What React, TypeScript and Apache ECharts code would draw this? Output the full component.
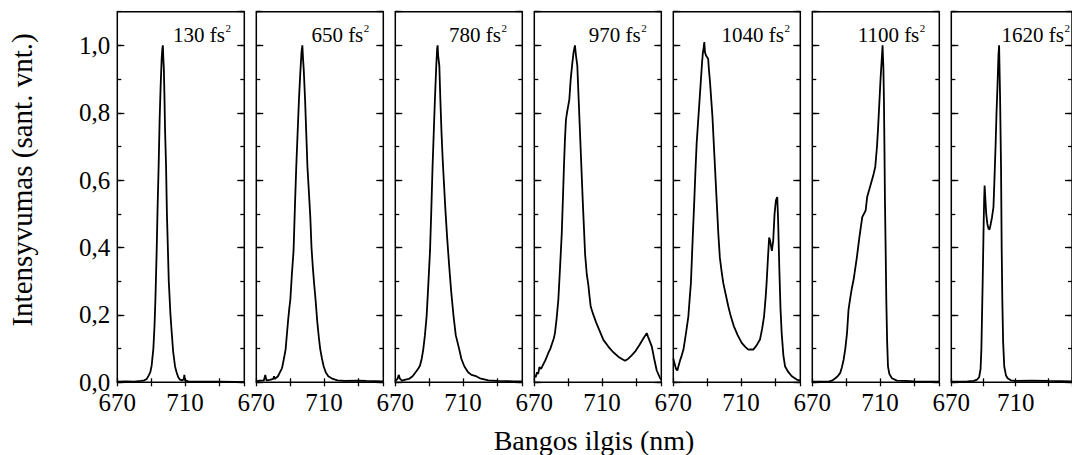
import React, { useEffect, useRef } from "react";
import * as echarts from "echarts";

// ---- data ----
const dispersionLabels = ["130", "650", "780", "970", "1040", "1100", "1620"];
const xTickLabels = [670, 710];
const yTickValues = [0, 0.2, 0.4, 0.6, 0.8, 1.0];

const spectrum130: number[][] = [
  [670, 0.002], [675, 0.003], [680, 0.002], [684, 0.004], [686, 0.006], [687.4, 0.01], [688.5, 0.02],
  [689.5, 0.03], [690.3, 0.05], [691.3, 0.1], [692, 0.17], [692.5, 0.245], [693.2, 0.38], [693.8, 0.52],
  [694.4, 0.64], [695, 0.78], [695.6, 0.88], [696.2, 0.96], [696.6, 0.99], [696.9, 1.0], [697.2, 0.96],
  [697.5, 0.93], [697.8, 0.86], [698.2, 0.75], [698.8, 0.64], [699.3, 0.5], [699.8, 0.41], [700.4, 0.3],
  [701.1, 0.23], [701.4, 0.2], [702.1, 0.15], [703, 0.09], [704.1, 0.047], [705, 0.03], [706, 0.015],
  [707, 0.008], [708.5, 0.006], [709.3, 0.01], [709.6, 0.022], [710, 0.006], [712, 0.003], [720, 0.002],
  [730, 0.002], [740, 0.001], [745, 0.001],
];
const spectrum650: number[][] = [
  [670, 0.003], [672, 0.005], [674.5, 0.006], [675.3, 0.022], [676, 0.006], [678, 0.007], [680, 0.01],
  [680.5, 0.018], [681, 0.01], [682.8, 0.018], [684, 0.03], [685, 0.04], [685.4, 0.047], [686.3, 0.07],
  [687.3, 0.097], [688.2, 0.15], [688.9, 0.19], [689.5, 0.22], [690.1, 0.245], [691, 0.32], [692, 0.39],
  [692.8, 0.52], [693.6, 0.64], [694.4, 0.74], [695.2, 0.84], [696, 0.92], [696.7, 0.98], [697.2, 1.0],
  [697.6, 0.96], [698, 0.93], [698.8, 0.84], [699.5, 0.74], [700.2, 0.64], [701, 0.57], [701.9, 0.49],
  [702.6, 0.4], [703.4, 0.34], [704.2, 0.29], [705, 0.245], [706, 0.18], [707, 0.13], [707.8, 0.097],
  [708.8, 0.07], [709.8, 0.047], [711, 0.03], [712.5, 0.018], [715.2, 0.01], [718, 0.006], [722, 0.004],
  [730, 0.005], [735, 0.004], [745, 0.003],
];
const spectrum780: number[][] = [
  [670, 0.004], [671.3, 0.01], [672, 0.022], [672.8, 0.01], [674, 0.005], [676, 0.008], [678, 0.01],
  [680.2, 0.018], [682, 0.03], [683.5, 0.04], [684.6, 0.05], [685.6, 0.07], [686.5, 0.097], [687.5, 0.14],
  [688.5, 0.196], [689.5, 0.29], [690.5, 0.39], [691.2, 0.5], [692, 0.64], [692.7, 0.74], [693.4, 0.84],
  [694.2, 0.94], [694.7, 0.99], [695, 1.0], [695.3, 0.97], [696, 0.94], [696.6, 0.84], [697.3, 0.74],
  [698, 0.66], [699.5, 0.52], [700.6, 0.43], [701.9, 0.34], [703, 0.27], [704.4, 0.196], [705.7, 0.14],
  [707.8, 0.097], [709, 0.07], [710.8, 0.047], [713, 0.03], [715, 0.022], [717.7, 0.018], [720, 0.012],
  [725, 0.006], [730, 0.004], [740, 0.003], [745, 0.003],
];
const spectrum970: number[][] = [
  [670, 0.02], [670.8, 0.015], [671.6, 0.03], [672.3, 0.025], [673, 0.045], [674, 0.04], [675, 0.05],
  [676.5, 0.065], [678.3, 0.087], [679.5, 0.1], [680.5, 0.115], [681.5, 0.13], [682.2, 0.146], [683.2, 0.19],
  [684.2, 0.245], [685.2, 0.34], [686.2, 0.44], [687, 0.56], [687.5, 0.64], [688.1, 0.72], [688.7, 0.78],
  [689.3, 0.8], [690, 0.82], [690.7, 0.84], [691.5, 0.9], [692.3, 0.94], [693.2, 0.98], [694, 1.0],
  [694.6, 0.97], [695.4, 0.94], [696.2, 0.84], [697, 0.74], [697.8, 0.64], [698.6, 0.54], [699.3, 0.46],
  [700, 0.38], [701, 0.32], [701.9, 0.29], [702.5, 0.26], [703.3, 0.225], [704.9, 0.2], [706.5, 0.178],
  [708.4, 0.155], [710.8, 0.126], [713.7, 0.106], [716.5, 0.09], [719.6, 0.076], [721.5, 0.07], [723.6, 0.064],
  [725.5, 0.07], [727.5, 0.08], [729.5, 0.091], [732, 0.11], [734.4, 0.13], [736.4, 0.146], [737.2, 0.135],
  [739.4, 0.106], [740.8, 0.07], [742.3, 0.035], [744.3, 0.012], [745, 0.008],
];
const spectrum1040: number[][] = [
  [670, 0.07], [670.8, 0.055], [671.6, 0.04], [672.4, 0.035], [673, 0.047], [674, 0.065], [675, 0.08],
  [676, 0.097], [677.5, 0.146], [678.9, 0.196], [679.7, 0.25], [680.4, 0.295], [681.4, 0.42], [682.4, 0.54],
  [683.1, 0.63], [683.8, 0.71], [685, 0.8], [686.2, 0.89], [687, 0.95], [687.5, 0.98], [688, 0.995],
  [688.3, 1.01], [688.7, 0.98], [689.3, 0.97], [690, 0.965], [690.6, 0.96], [691, 0.93], [691.7, 0.89],
  [693.1, 0.79], [694.6, 0.64], [695.6, 0.54], [696.6, 0.44], [697.5, 0.37], [698.5, 0.33], [699.5, 0.295],
  [701, 0.26], [702.5, 0.225], [704, 0.195], [705.8, 0.166], [708, 0.14], [710.4, 0.117], [712.5, 0.105],
  [714.3, 0.097], [716, 0.098], [717.2, 0.097], [719, 0.108], [721.2, 0.127], [722.5, 0.16], [723.6, 0.196],
  [724.5, 0.25], [725.1, 0.295], [725.8, 0.36], [726.6, 0.43], [727.2, 0.42], [728.2, 0.39], [729, 0.42],
  [729.8, 0.5], [730.6, 0.54], [731.4, 0.55], [731.9, 0.48], [732.6, 0.34], [733.3, 0.22], [734, 0.146],
  [735, 0.08], [736, 0.047], [738, 0.03], [740, 0.018], [742.9, 0.008], [745, 0.005],
];
const spectrum1100: number[][] = [
  [670, 0.002], [675, 0.002], [680, 0.003], [682, 0.006], [683.6, 0.012], [685, 0.018], [686.5, 0.028],
  [687.5, 0.045], [688.5, 0.067], [689.5, 0.1], [690.5, 0.146], [691.4, 0.216], [692.4, 0.25], [693.4, 0.28],
  [694.4, 0.305], [696.3, 0.37], [697.8, 0.43], [699.5, 0.49], [701.5, 0.51], [702.4, 0.55], [705.2, 0.6],
  [706.3, 0.62], [707.2, 0.64], [708.2, 0.7], [708.8, 0.75], [709.7, 0.84], [710.3, 0.9], [710.9, 0.95],
  [711.5, 1.0], [712, 0.93], [712.3, 0.84], [712.6, 0.7], [712.9, 0.54], [713.3, 0.4], [713.7, 0.245],
  [714.2, 0.12], [714.7, 0.047], [715.5, 0.025], [717, 0.012], [720, 0.005], [725, 0.004], [730, 0.003],
  [740, 0.002], [745, 0.002],
];
const spectrum1620: number[][] = [
  [670, 0.002], [675, 0.002], [680, 0.003], [684, 0.004], [686, 0.008], [687.3, 0.015], [688.2, 0.04],
  [688.7, 0.1], [689.1, 0.2], [689.5, 0.3], [690, 0.44], [690.4, 0.54], [690.7, 0.584], [691.1, 0.55],
  [691.7, 0.5], [692.4, 0.47], [693.2, 0.455], [693.8, 0.454], [694.5, 0.47], [695.3, 0.49], [696.2, 0.52],
  [696.8, 0.6], [697.5, 0.7], [698.1, 0.8], [698.7, 0.88], [699.3, 0.97], [699.7, 1.0], [700.3, 0.85],
  [700.9, 0.64], [701.3, 0.4], [701.7, 0.245], [702.2, 0.12], [702.9, 0.047], [704, 0.02], [705, 0.012],
  [707, 0.006], [710, 0.004], [720, 0.005], [730, 0.004], [745, 0.003],
];
const spectra = [spectrum130, spectrum650, spectrum780, spectrum970, spectrum1040, spectrum1100, spectrum1620];

// ---- layout ----
const X_MIN = 670;
const X_MAX = 745;
const Y_MAX = 1.1;
const PANEL_LEFT0 = 117.3;
const PANEL_PITCH = 139;
const PANEL_W = 127;
const PANEL_TOP = 11.7;
const PANEL_H = 370.6;
const labelRightInset = [19.3, 20, 21.3, 20.6, 16.3, 20, 14.3];
const FONT = "'Liberation Serif', 'Times New Roman', serif";

export default function App() {
  const ref = useRef<HTMLDivElement>(null);
  useEffect(() => {
    if (!ref.current) return;
    const chart = echarts.init(ref.current, undefined, { renderer: "svg" });
    const n = spectra.length;
    const grid: any[] = [];
    const xAxis: any[] = [];
    const yAxis: any[] = [];
    const series: any[] = [];
    const graphic: any[] = [];
    const tickLine = { color: "#000", width: 1.3 };
    for (let i = 0; i < n; i++) {
      const left = PANEL_LEFT0 + i * PANEL_PITCH;
      grid.push({
        left, top: PANEL_TOP, width: PANEL_W, height: PANEL_H,
        show: true, borderColor: "#000", borderWidth: 1.5, backgroundColor: "transparent",
      });
      const xBase = {
        type: "value", gridIndex: i, min: X_MIN, max: X_MAX, interval: 20,
        axisLine: { show: false }, splitLine: { show: false },
        axisTick: { show: true, inside: true, length: 4, lineStyle: tickLine },
      };
      xAxis.push({
        ...xBase, position: "bottom",
        axisLabel: {
          show: true, margin: 8, fontFamily: FONT, fontSize: 25, color: "#000",
          showMaxLabel: false,
          formatter: (v: number) => (xTickLabels.includes(Math.round(v)) && Math.abs(v - Math.round(v)) < 1e-6 ? String(Math.round(v)) : ""),
        },
      });
      xAxis.push({ ...xBase, position: "top", axisLabel: { show: false } });
      const yBase = {
        type: "value", gridIndex: i, min: 0, max: Y_MAX,
        axisLine: { show: false }, splitLine: { show: false },
      };
      yAxis.push({
        ...yBase, position: "left", interval: 0.2,
        axisTick: { show: true, inside: true, length: 7, lineStyle: tickLine },
        axisLabel: {
          show: i === 0, margin: 7, fontFamily: FONT, fontSize: 25, color: "#000",
          showMaxLabel: false,
          formatter: (v: number) => {
            const hit = yTickValues.find((t) => Math.abs(t - v) < 1e-6);
            return hit === undefined ? "" : hit.toFixed(1).replace(".", ",");
          },
        },
      });
      yAxis.push({
        ...yBase, position: "left", interval: 0.1,
        axisTick: { show: true, inside: true, length: 4, lineStyle: tickLine },
        axisLabel: { show: false },
      });
      yAxis.push({
        ...yBase, position: "right", interval: 0.2,
        axisTick: { show: true, inside: true, length: 7, lineStyle: tickLine },
        axisLabel: { show: false },
      });
      yAxis.push({
        ...yBase, position: "right", interval: 0.1,
        axisTick: { show: true, inside: true, length: 4, lineStyle: tickLine },
        axisLabel: { show: false },
      });
      series.push({
        type: "line", xAxisIndex: i * 2, yAxisIndex: i * 4, data: spectra[i],
        showSymbol: false, symbol: "none", silent: true, clip: true,
        lineStyle: { color: "#000", width: 1.8 },
      });
      const fsEnd = left + PANEL_W - labelRightInset[i];
      graphic.push({
        type: "text", x: fsEnd, y: 34.6, silent: true,
        style: {
          text: dispersionLabels[i] + " fs", fontFamily: FONT, fontSize: 21, fill: "#000",
          textAlign: "right", align: "right", textVerticalAlign: "middle", verticalAlign: "middle",
        },
      });
      graphic.push({
        type: "text", x: fsEnd + 0.5, y: 28.3, silent: true,
        style: {
          text: "2", fontFamily: FONT, fontSize: 11, fill: "#000",
          textAlign: "left", align: "left", textVerticalAlign: "middle", verticalAlign: "middle",
        },
      });
    }
    graphic.push({
      type: "text", x: 22, y: 180, rotation: Math.PI / 2, silent: true,
      style: {
        text: "Intensyvumas (sant. vnt.)", fontFamily: FONT, fontSize: 29, fill: "#000",
        textAlign: "center", align: "center", textVerticalAlign: "middle", verticalAlign: "middle",
      },
    });
    graphic.push({
      type: "text", x: 594, y: 440.4, silent: true,
      style: {
        text: "Bangos ilgis (nm)", fontFamily: FONT, fontSize: 28, fill: "#000",
        textAlign: "center", align: "center", textVerticalAlign: "middle", verticalAlign: "middle",
      },
    });
    chart.setOption({
      animation: false,
      backgroundColor: "#fff",
      grid, xAxis, yAxis, series, graphic,
    });
    return () => chart.dispose();
  }, []);
  return <div ref={ref} style={{ position: "absolute", left: 0, top: 0, width: 1072, height: 455 }} />;
}
